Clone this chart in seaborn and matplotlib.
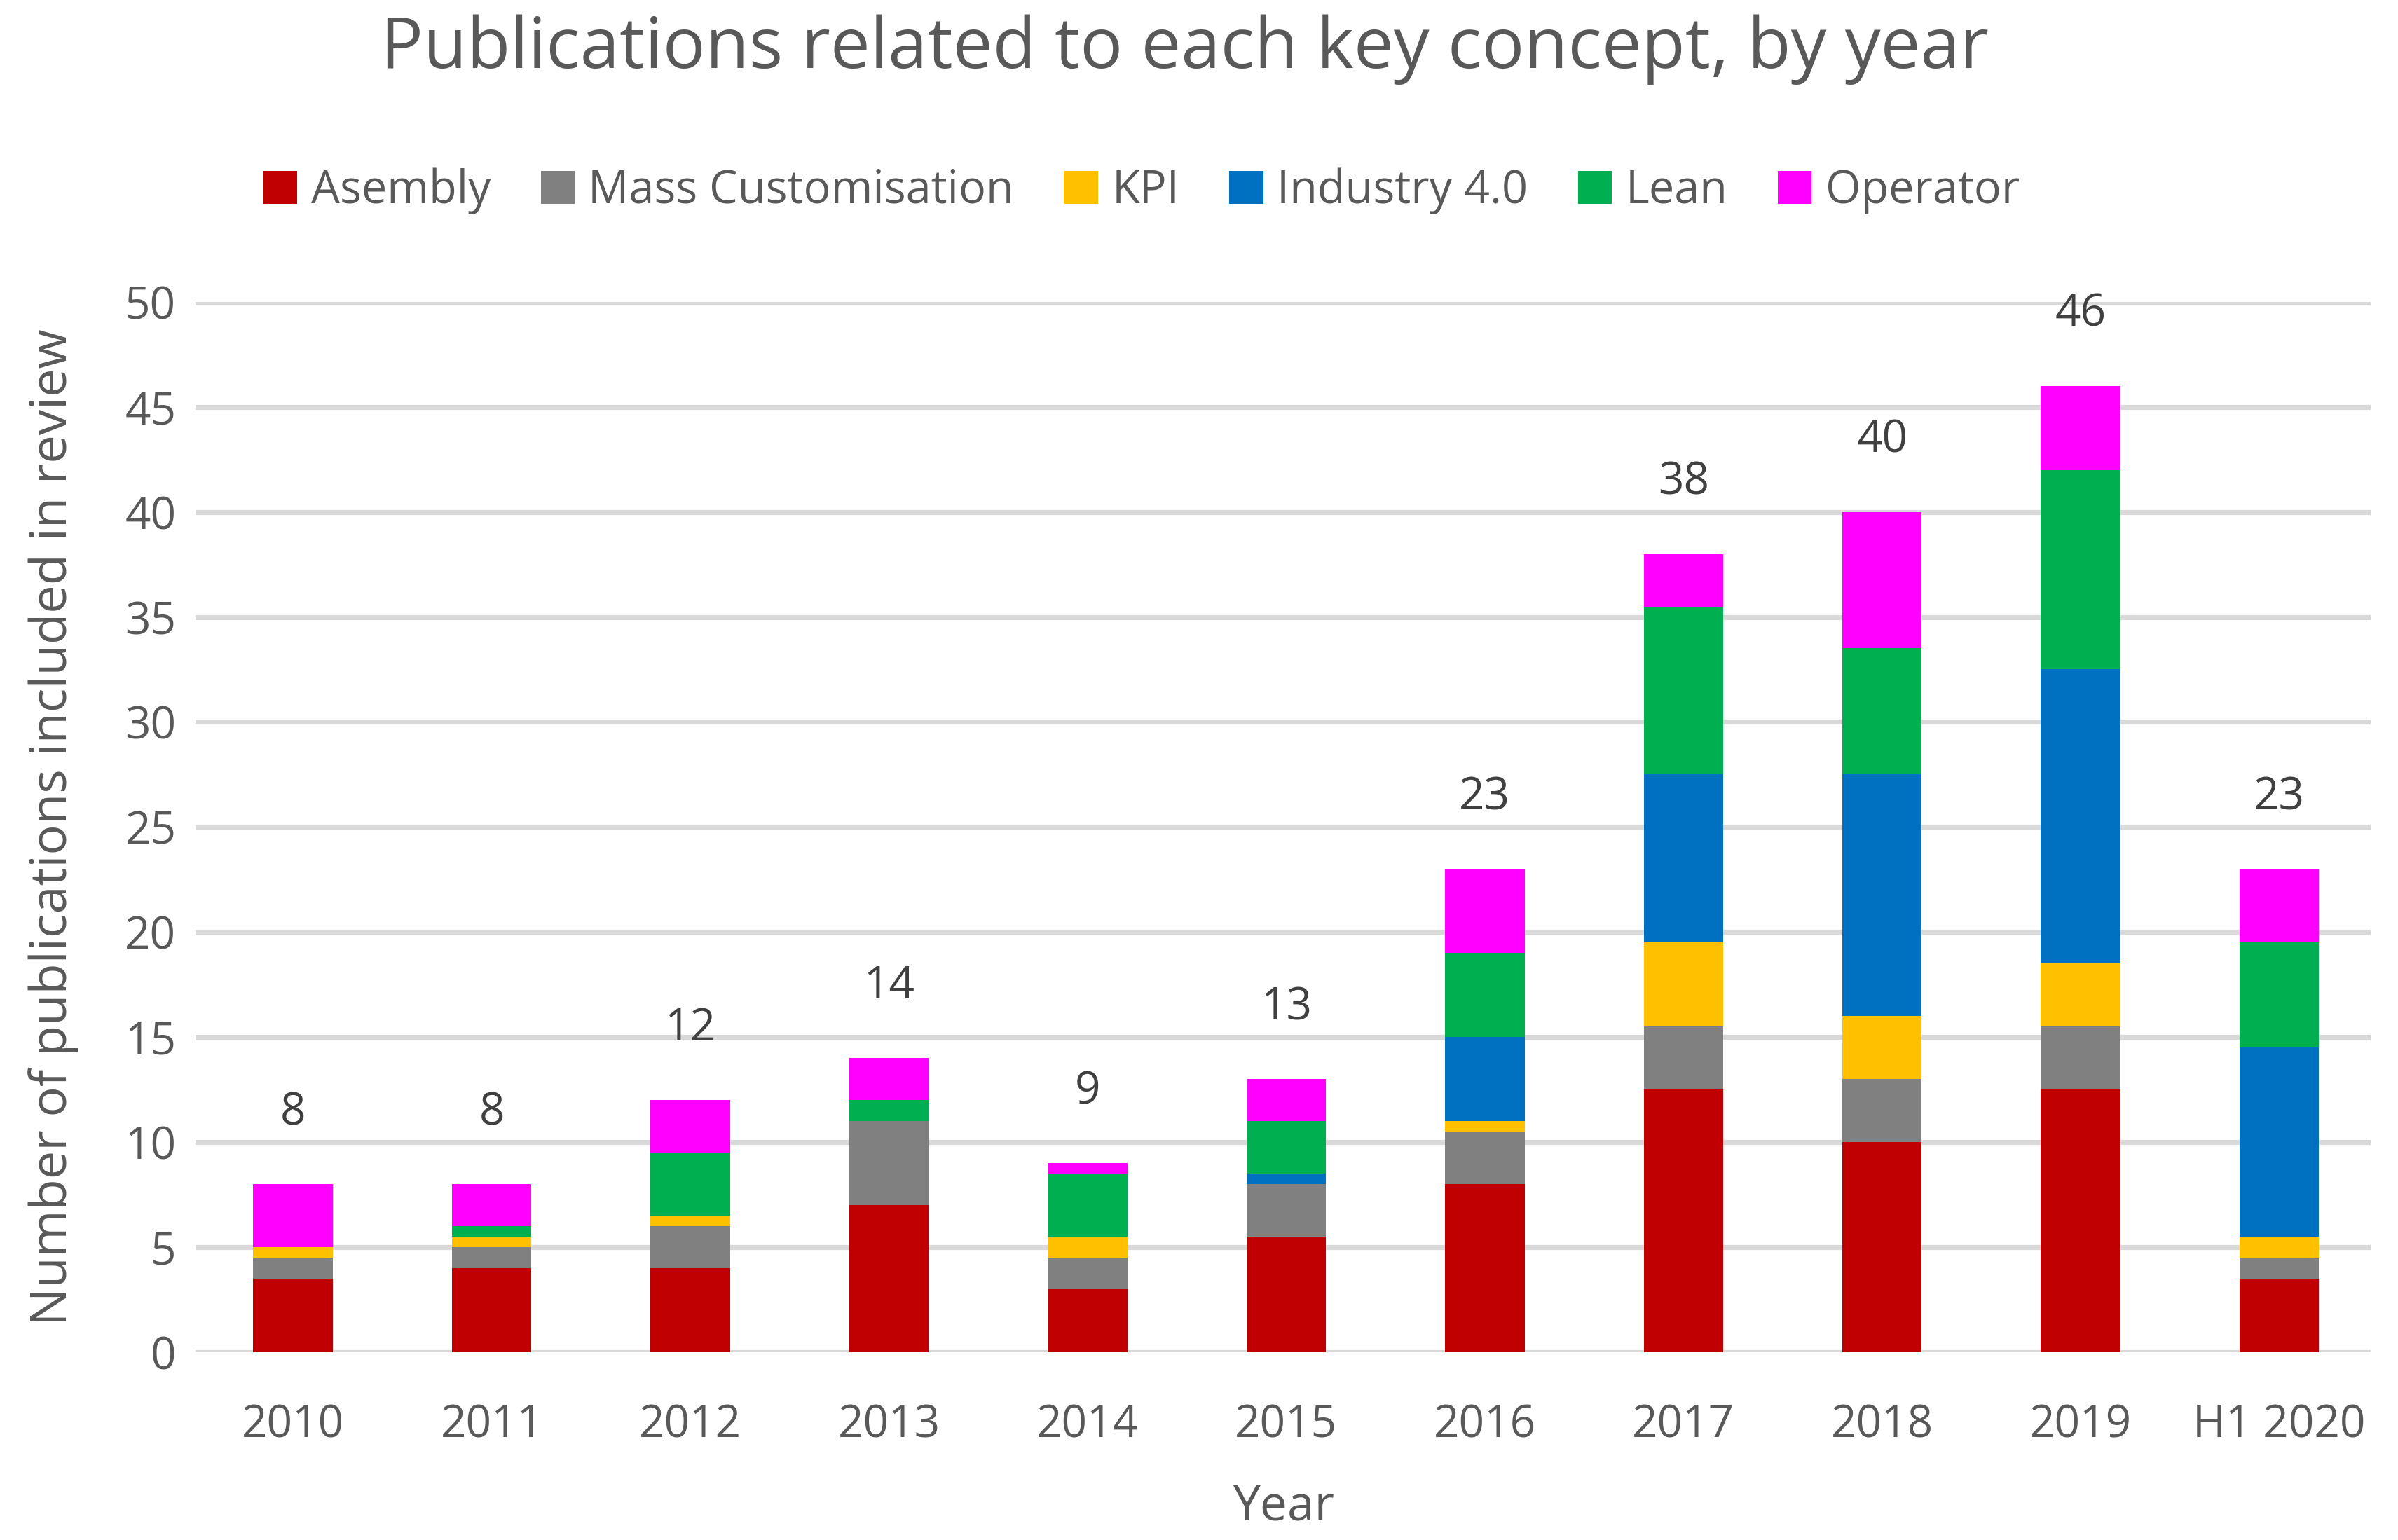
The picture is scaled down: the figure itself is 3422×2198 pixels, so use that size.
import numpy as np
import matplotlib
matplotlib.use("Agg")
import matplotlib.pyplot as plt
import seaborn as sns

sns.set_style("white")
plt.rcParams['font.family'] = ['Open Sans', 'DejaVu Sans']

years = ['2010', '2011', '2012', '2013', '2014', '2015', '2016', '2017', '2018', '2019', 'H1 2020']

asembly = [3.5, 4, 4, 7, 3, 5.5, 8, 12.5, 10, 12.5, 3.5]
mass_customisation = [1, 1, 2, 4, 1.5, 2.5, 2.5, 3, 3, 3, 1]
kpi = [0.5, 0.5, 0.5, 0, 1, 0, 0.5, 4, 3, 3, 1]
industry_40 = [0, 0, 0, 0, 0, 0.5, 4, 8, 11.5, 14, 9]
lean = [0, 0.5, 3, 1, 3, 2.5, 4, 8, 6, 9.5, 5]
operator = [3, 2, 2.5, 2, 0.5, 2, 4, 2.5, 6.5, 4, 3.5]

totals = [8, 8, 12, 14, 9, 13, 23, 38, 40, 46, 23]

series = [
    ('Asembly', asembly, '#C00000'),
    ('Mass Customisation', mass_customisation, '#808080'),
    ('KPI', kpi, '#FFC000'),
    ('Industry 4.0', industry_40, '#0070C0'),
    ('Lean', lean, '#00B050'),
    ('Operator', operator, '#FF00FF'),
]

txt = '#595959'

fig = plt.figure(figsize=(17.11, 10.99), dpi=200)
ax = fig.add_axes([0.0816, 0.122, 0.907, 0.682])

# stacked bars, one call per concept
bottom = np.zeros(len(years))
for name, vals, col in series:
    sns.barplot(x=years, y=vals, bottom=bottom, color=col, label=name,
                width=0.4, ax=ax, saturation=1, linewidth=0, errorbar=None)
    bottom = bottom + np.array(vals)

if ax.get_legend() is not None:
    ax.get_legend().remove()

for i, t in enumerate(totals):
    ax.text(i, t + 3.4, str(t), ha='center', va='center', fontsize=23, color='#404040')

ax.set_ylim(0, 50)
ax.set_xlim(-0.49, 10.46)
ax.set_yticks(range(0, 51, 5))
ax.yaxis.grid(True, color='#D9D9D9', linewidth=2.6)
ax.set_axisbelow(True)
for s in ax.spines.values():
    s.set_visible(False)
ax.tick_params(axis='both', length=0, labelsize=23, labelcolor=txt)
ax.tick_params(axis='x', pad=26)
ax.tick_params(axis='y', pad=10)
ax.set_xlabel('Year', fontsize=25, color=txt, labelpad=18)
ax.set_ylabel('Number of publications included in review', fontsize=26, color=txt, labelpad=24)

fig.suptitle('Publications related to each key concept, by year', fontsize=36.5,
             color=txt, x=0.494, y=0.968, va='center')

handles, labels = ax.get_legend_handles_labels()
fig.legend(handles, labels, ncol=6, loc='center', bbox_to_anchor=(0.476, 0.876),
           frameon=False, fontsize=23.3, labelcolor=txt, handlelength=0.75,
           handleheight=0.75, handletextpad=0.3, columnspacing=1.1)

fig.savefig('out.png', dpi=200)
